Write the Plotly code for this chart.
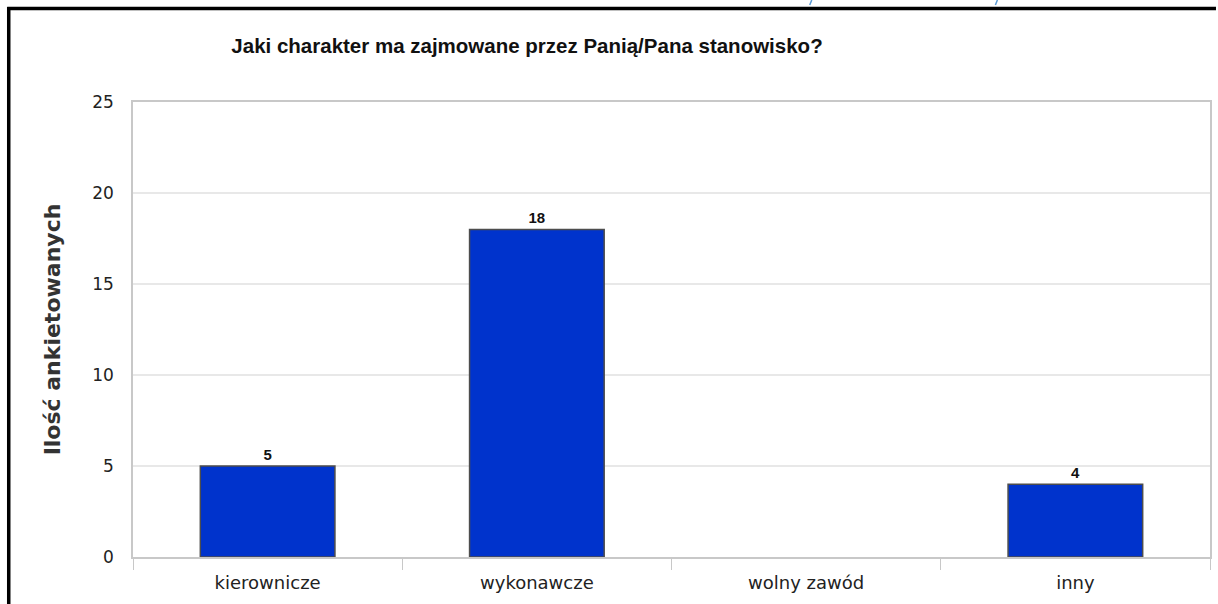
import plotly.graph_objects as go

categories = ["kierownicze", "wykonawcze", "wolny zawód", "inny"]
counts = [5, 18, 0, 4]
labels = ["5", "18", "", "4"]
y_ticks = [0, 5, 10, 15, 20, 25]

W, H = 1218, 604
L, R, T, B = 133, 6, 102, 47
PW, PH = W - L - R, H - T - B


def px_x(x):
    return (x - L) / PW


def px_y(y):
    return (H - B - y) / PH


fig = go.Figure()
fig.add_trace(go.Bar(
    x=categories, y=counts, width=0.5,
    marker=dict(color="#0033cc",
                line=dict(color="#4d4d4d", width=[1.5 if c else 0 for c in counts])),
    text=labels, textposition="outside", cliponaxis=False,
    textfont=dict(family="Liberation Sans", size=15, color="#111111", weight="bold"),
    hoverinfo="x+y",
))

fig.update_layout(
    width=W, height=H,
    margin=dict(l=L, r=R, t=T, b=B),
    paper_bgcolor="white", plot_bgcolor="white",
    showlegend=False,
    title=dict(
        text="<b>Jaki charakter ma zajmowane przez Panią/Pana stanowisko?</b>",
        x=527 / W, xref="container", xanchor="center",
        y=1 - 46 / H, yref="container", yanchor="middle",
        font=dict(family="Liberation Sans", size=20.5, color="#111111"),
    ),
)

fig.update_xaxes(
    tickson="boundaries", ticks="outside", ticklen=11, tickcolor="#c8c8c8",
    showline=True, linecolor="#c8c8c8", linewidth=1.5, mirror=True,
    showgrid=False,
    tickfont=dict(family="DejaVu Sans", size=18, color="#222222"),
    ticklabelstandoff=9,
    fixedrange=True,
)
fig.update_yaxes(
    range=[0, 25], tickvals=y_ticks, ticks="",
    showline=True, linecolor="#c8c8c8", linewidth=1.5, mirror=True,
    showgrid=True, gridcolor="#e8e8e8", gridwidth=1.5, zeroline=False,
    tickfont=dict(family="DejaVu Sans", size=17, color="#222222"),
    ticklabelstandoff=14,
    title=dict(text="<b>Ilość ankietowanych</b>", standoff=26,
               font=dict(family="DejaVu Sans", size=22, color="#333333")),
    fixedrange=True,
)

# black frame of the cropped page (top and left) and two blue marks above it
fig.add_shape(type="line", xref="paper", yref="paper",
              x0=px_x(7), x1=px_x(W), y0=px_y(8.5), y1=px_y(8.5),
              line=dict(color="black", width=3.5))
fig.add_shape(type="line", xref="paper", yref="paper",
              x0=px_x(8.5), x1=px_x(8.5), y0=px_y(7), y1=px_y(H),
              line=dict(color="black", width=3.5))
for bx in (812, 998):
    fig.add_shape(type="line", xref="paper", yref="paper",
                  x0=px_x(bx - 1), x1=px_x(bx + 1), y0=px_y(5), y1=px_y(0),
                  line=dict(color="#5b9bd5", width=1.5))

fig.write_html("out.html", config={"displayModeBar": False},
               post_script="document.body.style.margin='0';")
